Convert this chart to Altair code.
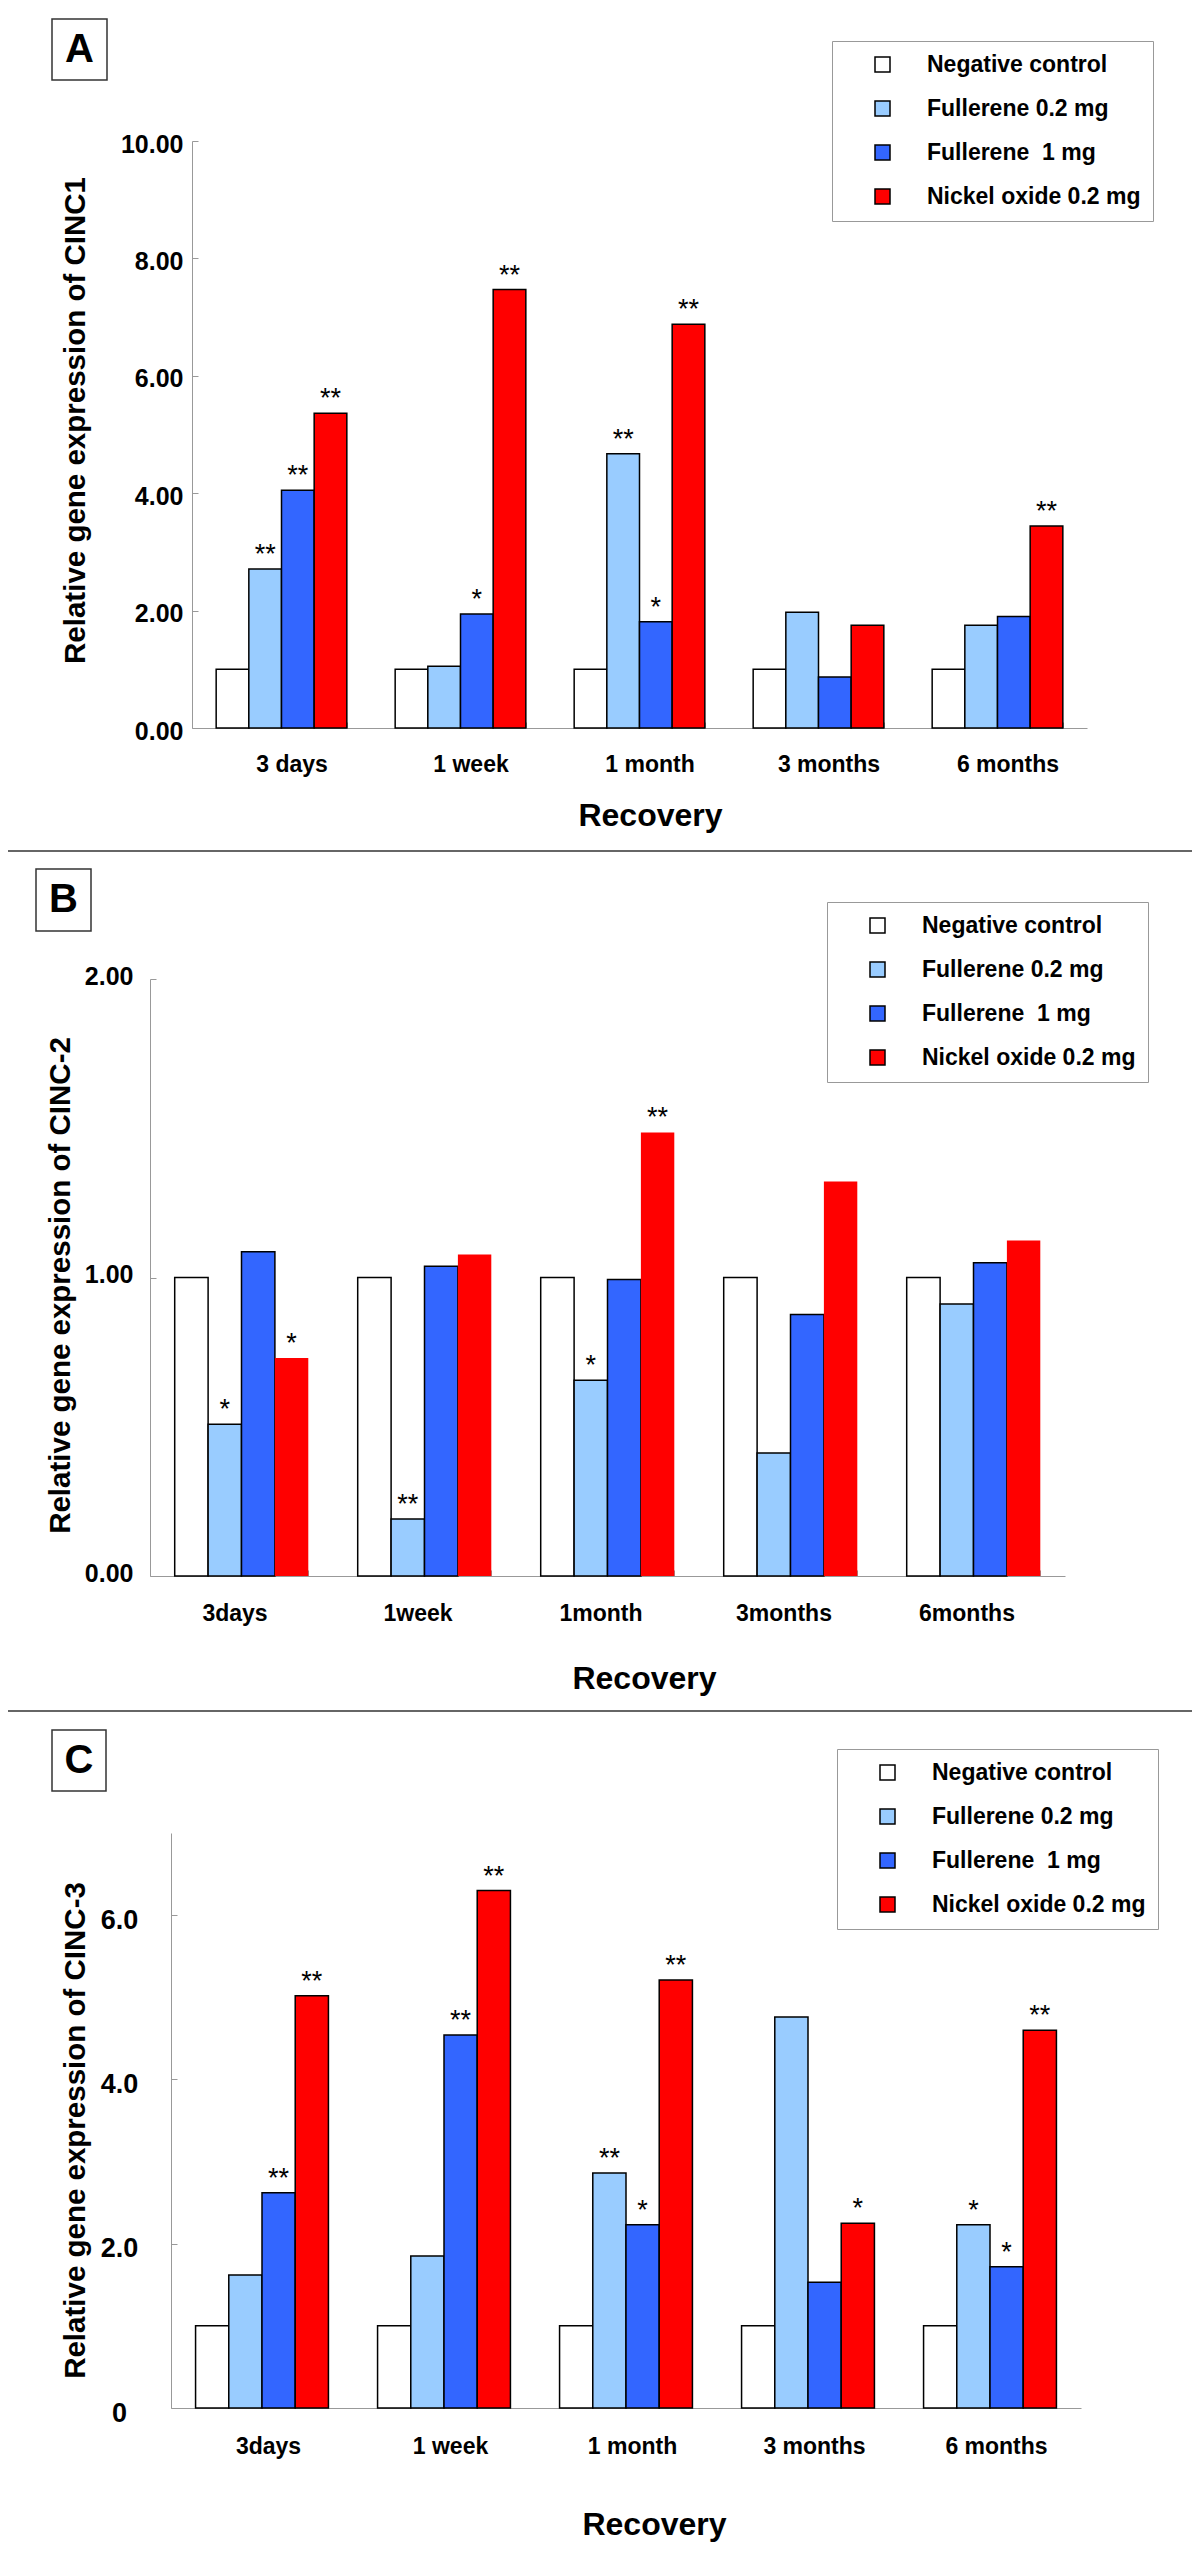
import altair as alt
import pandas as pd

FONT = "Liberation Sans"

# ---------------- data ----------------
series = ["Negative control", "Fullerene 0.2 mg", "Fullerene\u00a0 1 mg", "Nickel oxide 0.2 mg"]
colors = ["#FFFFFF", "#99CCFF", "#3366FF", "#FF0000"]

# Panel A : CINC1
cats_a = ["3 days", "1 week", "1 month", "3 months", "6 months"]
a_nc = [1.00, 1.00, 1.00, 1.00, 1.00]
a_f02 = [2.71, 1.05, 4.67, 1.97, 1.75]
a_f1 = [4.05, 1.94, 1.81, 0.87, 1.90]
a_nio = [5.36, 7.47, 6.88, 1.75, 3.44]
a_sig_nc = ["", "", "", "", ""]
a_sig_f02 = ["**", "", "**", "", ""]
a_sig_f1 = ["**", "*", "*", "", ""]
a_sig_nio = ["**", "**", "**", "", "**"]

# Panel B : CINC-2
cats_b = ["3days", "1week", "1month", "3months", "6months"]
b_nc = [1.00, 1.00, 1.00, 1.00, 1.00]
b_f02 = [0.508, 0.191, 0.656, 0.412, 0.911]
b_f1 = [1.086, 1.038, 0.993, 0.876, 1.049]
b_nio = [0.730, 1.077, 1.486, 1.322, 1.124]
b_sig_nc = ["", "", "", "", ""]
b_sig_f02 = ["*", "**", "*", "", ""]
b_sig_f1 = ["", "", "", "", ""]
b_sig_nio = ["*", "", "**", "", ""]

# Panel C : CINC-3
cats_c = ["3days", "1 week", "1 month", "3 months", "6 months"]
c_nc = [1.00, 1.00, 1.00, 1.00, 1.00]
c_f02 = [1.62, 1.85, 2.86, 4.76, 2.23]
c_f1 = [2.62, 4.54, 2.23, 1.53, 1.72]
c_nio = [5.02, 6.30, 5.21, 2.25, 4.60]
c_sig_nc = ["", "", "", "", ""]
c_sig_f02 = ["", "", "**", "", "*"]
c_sig_f1 = ["**", "**", "*", "", "*"]
c_sig_nio = ["**", "**", "**", "*", "**"]


def long_df(cats, vals, sigs):
    rows = []
    for s, vv, gg in zip(series, vals, sigs):
        for c, v, g in zip(cats, vv, gg):
            rows.append({"cat": c, "series": s, "value": v, "sig": g})
    return pd.DataFrame(rows)


df_a = long_df(cats_a, [a_nc, a_f02, a_f1, a_nio], [a_sig_nc, a_sig_f02, a_sig_f1, a_sig_nio])
df_b = long_df(cats_b, [b_nc, b_f02, b_f1, b_nio], [b_sig_nc, b_sig_f02, b_sig_f1, b_sig_nio])
df_c = long_df(cats_c, [c_nc, c_f02, c_f1, c_nio], [c_sig_nc, c_sig_f02, c_sig_f1, c_sig_nio])

W, H = 1184, 2536
GRAY = "#999999"
NEG_TICK = {"expr": "-6"}


def panel(df, cats, xr, yr, ydom, yvals, ytitle, ylab, xlab, legpos, no_red_stroke=False):
    xscale = alt.Scale(domain=cats, range=xr, paddingInner=0.27, paddingOuter=0.135)
    yscale = alt.Scale(domain=ydom, range=yr, nice=False, zero=True)
    xoff = alt.XOffset("series:N", sort=series,
                       scale=alt.Scale(domain=series, paddingInner=0, paddingOuter=0))
    yaxis = alt.Axis(
        orient="left", offset=-xr[0], values=yvals, grid=False,
        domainColor=GRAY, tickColor=GRAY, tickSize=NEG_TICK, tickWidth=1,
        labelFont=FONT, labelFontSize=ylab["size"], labelFontWeight="bold", labelColor="black",
        labelPadding=ylab["pad"], labelOffset=ylab["off"], labelAlign=ylab["align"],
        labelExpr=ylab["expr"],
        title=ytitle["text"], titleFont=FONT, titleFontSize=29.5, titleFontWeight="bold",
        titleColor="black", titleAngle=270, titleAlign="center", titleBaseline="middle",
        titleX=ytitle["x"] - xr[0], titleY=ytitle["y"],
    )
    xaxis = alt.Axis(
        orient="bottom", offset=-(H - yr[0]), grid=False, labelAngle=0,
        domainColor=GRAY, tickColor=GRAY, tickSize=NEG_TICK, tickWidth=1, tickBand="extent",
        labelFont=FONT, labelFontSize=23, labelFontWeight="bold", labelColor="black",
        labelBaseline="alphabetic", labelPadding=xlab["pad"], labelOffset=xlab["off"],
        labelLimit=400,
        title="Recovery", titleFont=FONT, titleFontSize=32, titleFontWeight="bold",
        titleColor="black", titleAlign="center", titleBaseline="middle",
        titleX=xlab["tx"], titleY=xlab["ty"] - yr[0],
    )
    legend = alt.Legend(
        title=None, orient="none", legendX=legpos[0], legendY=legpos[1],
        direction="vertical", symbolType="square", symbolSize=225,
        symbolStrokeColor="black", symbolStrokeWidth=1.5, symbolOffset=27,
        labelOffset=33, labelFont=FONT, labelFontSize=23, labelFontWeight="bold",
        labelColor="black", labelLimit=400, padding=12, rowPadding=20,
        strokeColor=GRAY, fillColor="white",
    )
    if no_red_stroke:
        stroke = alt.condition(alt.datum.series == series[3], alt.value("transparent"), alt.value("black"))
    else:
        stroke = alt.value("black")
    base = alt.Chart(df)
    bars = base.mark_bar(strokeWidth=1.5).encode(
        x=alt.X("cat:N", sort=cats, scale=xscale, axis=xaxis),
        xOffset=xoff,
        y=alt.Y("value:Q", scale=yscale, axis=yaxis),
        color=alt.Color("series:N", sort=series,
                        scale=alt.Scale(domain=series, range=colors), legend=legend),
        stroke=stroke,
    )
    stars = base.mark_text(font=FONT, fontSize=27, color="black", baseline="alphabetic",
                           align="center", dy=-6).encode(
        x=alt.X("cat:N", sort=cats, scale=xscale),
        xOffset=xoff,
        y=alt.Y("value:Q", scale=yscale),
        text="sig:N",
    )
    return alt.layer(bars, stars)


# plot coordinates = page coordinates - 8
pA = panel(df_a, cats_a, [184, 1079], [720, 133], [0, 10], [0, 2, 4, 6, 8, 10],
           {"text": "Relative gene expression of CINC1", "x": 67, "y": 412},
           {"size": 25, "pad": 15, "off": 3, "align": "right", "expr": "format(datum.value, '.2f')"},
           {"pad": 49, "off": 10, "tx": 642, "ty": 807},
           (824, 33))
pB = panel(df_b, cats_b, [142, 1057], [1568, 971], [0, 2], [0, 1, 2],
           {"text": "Relative gene expression of CINC-2", "x": 52.5, "y": 1277},
           {"size": 25, "pad": 23, "off": -3, "align": "right", "expr": "format(datum.value, '.2f')"},
           {"pad": 50, "off": -7, "tx": 636, "ty": 1670},
           (819, 894), no_red_stroke=True)
pC = panel(df_c, cats_c, [163, 1073], [2400, 1825], [0, 7], [0, 2, 4, 6],
           {"text": "Relative gene expression of CINC-3", "x": 67, "y": 2122},
           {"size": 27, "pad": 58, "off": 5, "align": "center",
            "expr": "datum.value == 0 ? '0' : format(datum.value, '.1f')"},
           {"pad": 51, "off": 6, "tx": 646, "ty": 2516},
           (829, 1741))

one = alt.Data(values=[{"k": 1}])


def sep(y):
    return alt.Chart(one).mark_rule(color="#333333", strokeWidth=1.5).encode(
        x=alt.value(0), x2=alt.value(W), y=alt.value(y))


def label_box(letter, x0, x1, y0, y1):
    box = alt.Chart(one).mark_rect(fill="white", stroke="#333333", strokeWidth=1.5).encode(
        x=alt.value(x0), x2=alt.value(x1), y=alt.value(y0), y2=alt.value(y1))
    txt = alt.Chart(one).mark_text(font=FONT, fontSize=40, fontWeight="bold", color="black",
                                   align="center", baseline="middle").encode(
        x=alt.value((x0 + x1) / 2), y=alt.value((y0 + y1) / 2), text=alt.value(letter))
    return [box, txt]


annot = [sep(843), sep(1703)]
annot += label_box("A", 44, 99, 11, 72)
annot += label_box("B", 28, 83, 861, 923)
annot += label_box("C", 44, 98, 1722, 1783)

chart = alt.layer(pA, pB, pC, *annot).resolve_scale(
    x="independent", y="independent", xOffset="independent", color="independent"
).resolve_axis(x="independent", y="independent").resolve_legend(color="independent").properties(
    width=W, height=H, autosize=alt.AutoSizeParams(type="none"), padding=0
).configure_view(stroke=None)

chart.save("out.html", embed_options={"renderer": "svg", "actions": False})
